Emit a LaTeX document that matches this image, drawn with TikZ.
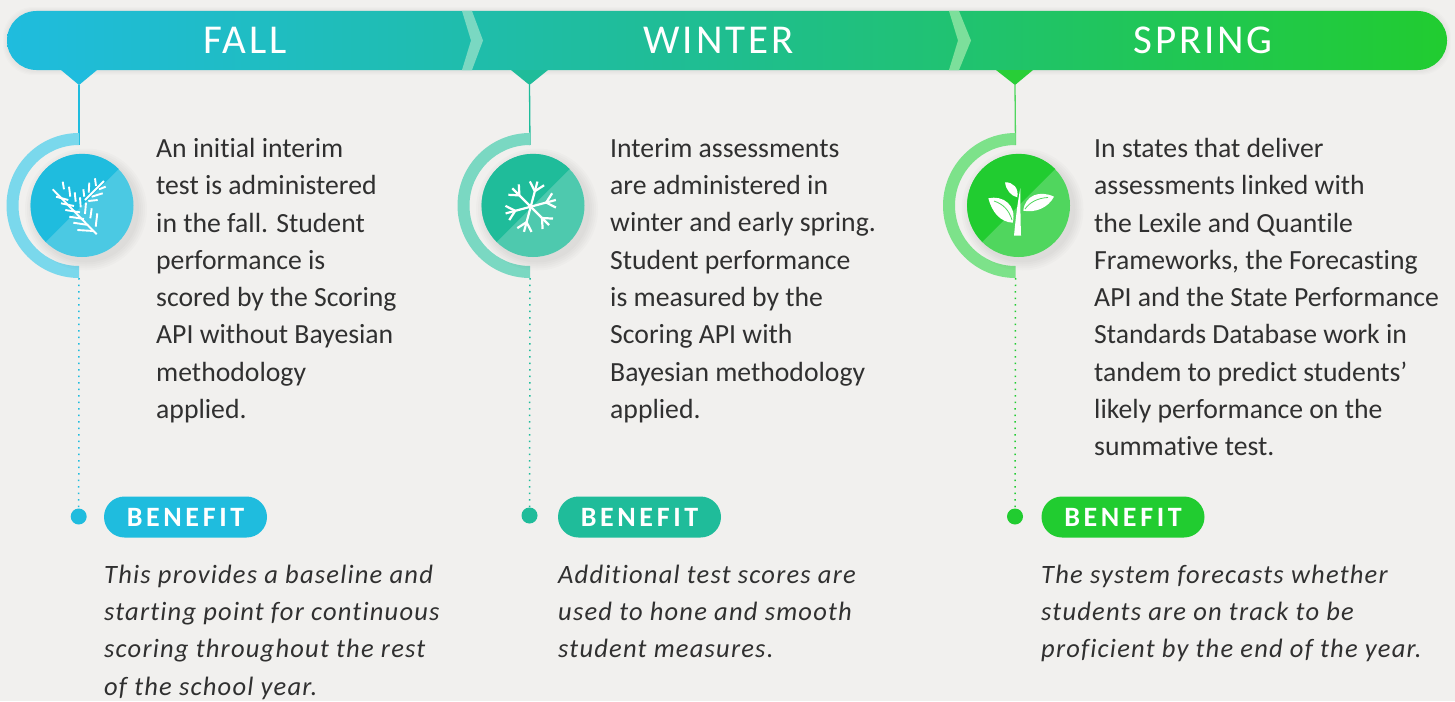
\documentclass[tikz,border=0pt]{standalone}
\usepackage{fontspec}
\setmainfont[Ligatures=NoCommon]{Carlito}
\newfontfamily\headfont[LetterSpace=7]{Carlito}
\newfontfamily\tagfont[LetterSpace=13]{Carlito}
\newfontfamily\notefont[LetterSpace=4.6,Ligatures=NoCommon]{Carlito}
\definecolor{pagegray}{HTML}{F1F0EE}
\definecolor{inktext}{HTML}{303030}
\definecolor{falldark}{HTML}{1FBCDE}
\definecolor{falllight}{HTML}{4BC9E3}
\definecolor{fallring}{HTML}{7AD8EC}
\definecolor{winterdark}{HTML}{1FBC9A}
\definecolor{winterlight}{HTML}{4EC9AE}
\definecolor{winterring}{HTML}{7AD8C2}
\definecolor{springdark}{HTML}{21CC30}
\definecolor{springlight}{HTML}{50D65E}
\definecolor{springring}{HTML}{7DE28A}
\pgfdeclarehorizontalshading{bannershade}{100bp}{color(0bp)=(falldark); color(25bp)=(falldark); color(50bp)=(winterdark!90!springdark); color(75bp)=(springdark); color(100bp)=(springdark)}
\tikzset{
  bannerbar/.style={shading=bannershade, minimum width=1440pt, minimum height=59pt, rounded corners=29.5pt, inner sep=0pt},
  seasonlabel/.style={text=white, font=\headfont\fontsize{41}{41}\selectfont, inner sep=0pt},
  disc/.style={circle, minimum size=103pt, inner sep=0pt},
  enddot/.style={circle, minimum size=16pt, inner sep=0pt},
  benefitpill/.style={minimum width=163pt, minimum height=41pt, rounded corners=20.5pt, inner sep=0pt, text=white, font=\tagfont\bfseries\fontsize{28}{28}\selectfont},
  bodytext/.style={anchor=north west, align=left, inner sep=0pt, text=inktext, font=\fontsize{27.7}{37.3}\selectfont},
  notetext/.style={anchor=north west, align=left, inner sep=0pt, text=inktext, font=\notefont\itshape\fontsize{26.5}{37.3}\selectfont},
  dotline/.style={line width=1.5pt, dash pattern=on 1.5pt off 5pt},
  iconline/.style={white, line width=1.9pt},
}
\begin{document}
\begin{tikzpicture}[x=1pt,y=-1pt]
\useasboundingbox (0,0) rectangle (1455,701);
\fill[pagegray] (0,0) rectangle (1455,701);

\foreach \g in {1,2,3,4}
  \fill[black,opacity=0.012,rounded corners=30pt] (7-\g,11-\g) rectangle (1447+\g,70+\g+1);
\node[bannerbar] (banner) at (727,40.5) {};
\fill[winterring] (462,11) -- (472,11) -- (483,40.5) -- (472,70) -- (462,70) -- (471,40.5) -- cycle;
\fill[springring!70!winterring] (949,11) -- (959,11) -- (971,40.5) -- (959,70) -- (949,70) -- (958,40.5) -- cycle;
\node[seasonlabel] (fall) at (245,40.5) {FALL};
\node[seasonlabel] (winter) at (718.5,40.5) {WINTER};
\node[seasonlabel] (spring) at (1203,40.5) {SPRING};

\coordinate (ftip) at (79,85);
\coordinate (wtip) at (529.5,85);
\coordinate (stip) at (1015,85);
\fill[falldark] (61,70) -- (97,70) -- (ftip) -- cycle;
\fill[winterdark] (511,70) -- (548,70) -- (wtip) -- cycle;
\fill[springdark!85!springlight] (996,70) -- (1033,70) -- (stip) -- cycle;

\coordinate (ftop) at (79,145);
\coordinate (fbot) at (79,278);
\coordinate (wtop) at (530,145);
\coordinate (wbot) at (530,278);
\coordinate (stop) at (1015.5,145);
\coordinate (sbot) at (1015.5,278);
\draw[falldark,line width=1.3pt] (ftip) -- (ftop);
\draw[winterdark,line width=1.3pt] (wtip) -- (wtop);
\draw[springlight,line width=1.3pt] (stip) -- (stop);

\fill[fallring] (79,133) arc[start angle=-90,end angle=-270,radius=72.5] -- (79,266) arc[start angle=-270,end angle=-90,radius=60.5] -- cycle;
\fill[winterring] (530,133) arc[start angle=-90,end angle=-270,radius=72.5] -- (530,266) arc[start angle=-270,end angle=-90,radius=60.5] -- cycle;
\fill[springring] (1015.5,133) arc[start angle=-90,end angle=-270,radius=72.5] -- (1015.5,266) arc[start angle=-270,end angle=-90,radius=60.5] -- cycle;

\foreach \cx in {82,533,1018.5}
  \foreach \r in {53,55,57,59,61}
    \fill[black,opacity=0.014] (\cx+4,205.5+4) circle[radius=\r];

\node[disc,fill=falllight] (fdisc) at (82,205.5) {};
\node[disc,fill=winterlight] (wdisc) at (533,205.5) {};
\node[disc,fill=springlight] (sdisc) at (1018.5,205.5) {};
\fill[falldark] (fdisc.45) arc[start angle=-45,end angle=-225,radius=51.5] -- cycle;
\fill[winterdark] (wdisc.45) arc[start angle=-45,end angle=-225,radius=51.5] -- cycle;
\fill[springdark] (sdisc.45) arc[start angle=-45,end angle=-225,radius=51.5] -- cycle;

\draw[iconline] (52.7,189.3) -- (96.7,234.3) (85,200) -- (104,181);
\draw[iconline] (56,196.7) -- (68.3,200) (61,203.3) -- (74,206) (65.3,210) -- (80,212.3) (69.3,216.7) -- (84,219) (73.3,222.7) -- (88.3,225) (77.3,230) -- (93.3,231);
\draw[iconline] (62.7,181.7) -- (64,189.3) (69,186.7) -- (70.3,196.7) (74.7,192.3) -- (75.7,201.7) (80,197.3) -- (80.7,207.3) (86,202.7) -- (85,214) (91.7,208.3) -- (90.3,218.3) (97.3,213.3) -- (95.7,226.7);
\draw[iconline] (89.3,182.7) -- (88.7,192.7) (95,178.3) -- (96,186) (83.3,189.3) -- (84.3,196.7) (105.7,186.7) -- (99,189.3) (102.7,193.3) -- (91.7,196.7) (97.7,200) -- (88.3,201);

\coordinate (flake) at (530.7,206.7);
\foreach \a in {-135,-75,-15,45,105,165}{
  \draw[white,line width=2.2pt] (flake) -- ++(\a:26);
  \draw[white,line width=2.2pt] (flake) ++(\a:16) -- ++(\a+42:11);
  \draw[white,line width=2.2pt] (flake) ++(\a:16) -- ++(\a-42:11);
}

\fill[white] (1014,235.7) .. controls (1016,215) and (1018,200) .. (1020.3,188.3) .. controls (1020.3,205) and (1020.5,220) .. (1021,235.7) -- cycle;
\fill[white] (988.3,198.3) .. controls (1003,195) and (1017,205) .. (1012.7,222.7) .. controls (1000,222) and (992,212) .. (988.3,198.3) -- cycle;
\fill[white] (1054,196.7) .. controls (1040,190) and (1025,195) .. (1023.3,210.7) .. controls (1035,213) and (1048,208) .. (1054,196.7) -- cycle;
\fill[white] (1005,182.3) .. controls (1013,182) and (1019,188) .. (1017.3,197.3) .. controls (1011,196) and (1006,190) .. (1005,182.3) -- cycle;
\draw[springlight,line width=0.8pt] (994,201) .. controls (1003,204) and (1009,210) .. (1012,220);
\draw[springlight,line width=0.8pt] (1048,197.5) .. controls (1038,198) and (1030,202) .. (1025,209);

\node[enddot,fill=falldark] (fdot) at (78.7,516.5) {};
\node[enddot,fill=winterdark] (wdot) at (529.5,515.5) {};
\node[enddot,fill=springdark] (sdot) at (1015,516.5) {};
\draw[falldark,dotline] (fbot) -- (fdot);
\draw[winterdark,dotline] (wbot) -- (wdot);
\draw[springdark,dotline] (sbot) -- (sdot);

\node[benefitpill,fill=falldark] (fpill) at (185.5,517) {BENEFIT};
\node[benefitpill,fill=winterdark] (wpill) at (639.5,517) {BENEFIT};
\node[benefitpill,fill=springdark] (spill) at (1123,517) {BENEFIT};

\node[bodytext] (fbody) at (156,138) {An initial interim\\test is administered\\in the fall. Student\\performance is\\scored by the Scoring\\API without Bayesian\\methodology\\applied.};
\node[bodytext] (wbody) at (610,138) {Interim assessments\\are administered in\\winter and early spring.\\Student performance\\is measured by the\\Scoring API with\\Bayesian methodology\\applied.};
\node[bodytext] (sbody) at (1094,138) {In states that deliver\\assessments linked with\\the Lexile and Quantile\\Frameworks, the Forecasting\\API and the State Performance\\Standards Database work in\\tandem to predict students’\\likely performance on the\\summative test.};

\node[notetext] (fnote) at (104,564.5) {This provides a baseline and\\starting point for continuous\\scoring throughout the rest\\of the school year.};
\node[notetext] (wnote) at (558,564.5) {Additional test scores are\\used to hone and smooth\\student measures.};
\node[notetext] (snote) at (1041,564.5) {The system forecasts whether\\students are on track to be\\proficient by the end of the year.};
\end{tikzpicture}
\end{document}
